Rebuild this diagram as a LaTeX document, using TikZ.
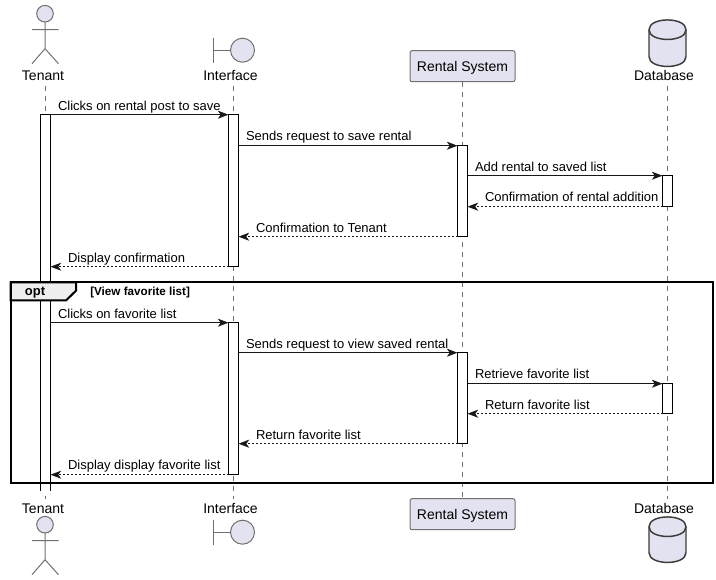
\documentclass[tikz,border=0pt]{standalone}
\usepackage{fontspec}
\setmainfont{Liberation Sans}
\usetikzlibrary{arrows.meta, positioning}
\definecolor{partfill}{HTML}{E2E2F0}
\definecolor{partline}{HTML}{707070}
\definecolor{tabfill}{HTML}{EEEEEE}
\definecolor{msgline}{HTML}{181818}
\tikzstyle{partbox} = [rectangle, rounded corners=1.5pt, minimum width=78.75pt, minimum height=23.25pt, inner sep=0pt, outer sep=0pt, text depth=0pt, draw=partline, fill=partfill, line width=.75pt, font=\fontsize{10.5}{12}\selectfont]
\tikzstyle{partname} = [inner sep=0pt, outer sep=0pt, font=\fontsize{10.5}{12}\selectfont]
\tikzstyle{figure} = [draw=partline, fill=partfill, line width=.75pt]
\tikzstyle{stick} = [draw=partline, line width=.75pt]
\tikzstyle{cylinder} = [draw=msgline!85, fill=partfill, line width=1.1pt]
\tikzstyle{lifeline} = [draw=partline, line width=.75pt, dash pattern=on 3.75pt off 3.75pt]
\tikzstyle{bar} = [rectangle, minimum width=7.5pt, inner sep=0pt, outer sep=0pt, anchor=north, draw=black, fill=white, line width=.75pt]
\tikzstyle{msg} = [inner sep=0pt, outer sep=0pt, anchor=base west, font=\fontsize{9.75}{12}\selectfont]
\tikzstyle{arrow} = [draw=msgline, line width=.75pt, -{Stealth[length=8pt, width=6pt, inset=2.2pt]}]
\tikzstyle{reply} = [arrow, dash pattern=on 1.5pt off 1.5pt]

\begin{document}
\begin{tikzpicture}[x=.75pt, y=-.75pt]
  \useasboundingbox (0,-0.7) rectangle (716,579.3);
  % lifelines
  \coordinate (tenantA) at (45.5,85);
  \coordinate (tenantB) at (45.5,498);
  \coordinate (interfaceA) at (233.5,85);
  \coordinate (interfaceB) at (233.5,498);
  \coordinate (databaseA) at (667.5,85);
  \coordinate (databaseB) at (667.5,498);
  \node (rentalTop) [partbox] at (462.5,65.5) {Rental System};
  \node (rentalBottom) [partbox] at (462.5,513.5) {Rental System};
  \draw[lifeline] (tenantA) -- (tenantB);
  \draw[lifeline] (interfaceA) -- (interfaceB);
  \draw[lifeline] (rentalTop) -- (rentalBottom);
  \draw[lifeline] (databaseA) -- (databaseB);

  % participants
  \node (tenantTop) [partname] at (43,75) {Tenant};
  \node (tenantBottom) [partname] at (43,508) {Tenant};
  \node (interfaceTop) [partname] at (230.5,75) {Interface};
  \node (interfaceBottom) [partname] at (230.5,508) {Interface};
  \node (databaseTop) [partname] at (664,75) {Database};
  \node (databaseBottom) [partname] at (664,508) {Database};

  \draw[figure] (45,13) circle [radius=8.3];
  \draw[stick] (45,21.5) -- (45,48) (32,29) -- (58.5,29) (32,63) -- (45,48) -- (58.5,63);
  \draw[figure] (45,524) circle [radius=8.3];
  \draw[stick] (45,532.5) -- (45,559) (32,540) -- (58.5,540) (32,574) -- (45,559) -- (58.5,574);

  \draw[stick] (213.5,37) -- (213.5,62) (213.5,49.5) -- (230.5,49.5);
  \draw[figure] (242.5,49.5) circle [radius=12];
  \draw[stick] (213.5,519) -- (213.5,544) (213.5,531.5) -- (230.5,531.5);
  \draw[figure] (242.5,531.5) circle [radius=12];

  \draw[cylinder] (649,29) .. controls (649,16) and (686,16) .. (686,29) -- (686,56) .. controls (686,69) and (649,69) .. (649,56) -- cycle;
  \draw[cylinder] (649,29) .. controls (649,42) and (686,42) .. (686,29);
  \draw[cylinder] (649,526) .. controls (649,513) and (686,513) .. (686,526) -- (686,552) .. controls (686,565) and (649,565) .. (649,552) -- cycle;
  \draw[cylinder] (649,526) .. controls (649,539) and (686,539) .. (686,526);

  % activations
  \node (barT) [bar, draw=none, minimum height=376*.75pt] at (45.5,114) {};
  \draw[line width=.75pt] (barT.south west) -- (barT.north west) -- (barT.north east) -- (barT.south east);
  \node (barI1) [bar, minimum height=152*.75pt] at (233.5,114) {};
  \node (barR1) [bar, minimum height=91*.75pt] at (462.5,145) {};
  \node (barD1) [bar, minimum height=31*.75pt] at (667.5,175) {};
  \node (barI2) [bar, minimum height=152*.75pt] at (233.5,322) {};
  \node (barR2) [bar, minimum height=91*.75pt] at (462.5,352) {};
  \node (barD2) [bar, minimum height=30*.75pt] at (667.5,383) {};

  % messages
  \draw[arrow] (barT.north east) -- (barI1.north west);
  \draw[arrow] (barI1.east |- barR1.north) -- (barR1.north west);
  \draw[arrow] (barR1.east |- barD1.north) -- (barD1.north west);
  \draw[reply] (barD1.south west) -- (barR1.east |- barD1.south);
  \draw[reply] (barR1.south west) -- (barI1.east |- barR1.south);
  \draw[reply] (barI1.south west) -- (barT.east |- barI1.south);
  \draw[arrow] (barT.east |- barI2.north) -- (barI2.north west);
  \draw[arrow] (barI2.east |- barR2.north) -- (barR2.north west);
  \draw[arrow] (barR2.east |- barD2.north) -- (barD2.north west);
  \draw[reply] (barD2.south west) -- (barR2.east |- barD2.south);
  \draw[reply] (barR2.south west) -- (barI2.east |- barR2.south);
  \draw[reply] (barI2.south west) -- (barT.east |- barI2.south);

  \node (msgSave) [msg] at (58,110) {Clicks on rental post to save};
  \node (msgRequest) [msg] at (246,140) {Sends request to save rental};
  \node (msgAdd) [msg] at (475,171) {Add rental to saved list};
  \node (msgAdded) [msg] at (485,201) {Confirmation of rental addition};
  \node (msgConfirm) [msg] at (256,232) {Confirmation to Tenant};
  \node (msgDisplay) [msg] at (68,262) {Display confirmation};
  \node (msgClick) [msg] at (58,318) {Clicks on favorite list};
  \node (msgView) [msg] at (246,348) {Sends request to view saved rental};
  \node (msgRetrieve) [msg] at (475,378) {Retrieve favorite list};
  \node (msgReturnA) [msg] at (485,409) {Return favorite list};
  \node (msgReturnB) [msg] at (256,439) {Return favorite list};
  \node (msgShow) [msg] at (68,469) {Display display favorite list};

  % opt frame
  \draw[black, line width=1.5pt, fill=tabfill] (10.5,281.8) -- (76,281.8) -- (76,290) -- (66,299.8) -- (10.5,299.8) -- cycle;
  \draw[black, line width=1.5pt] (10.5,281.8) rectangle (713,481.8);
  \node (optName) [inner sep=0pt, font=\bfseries\fontsize{9.75}{12}\selectfont] at (35,291.5) {opt};
  \node (optGuard) [inner sep=0pt, anchor=west, font=\bfseries\fontsize{8.75}{10}\selectfont] at (90,291.5) {[View favorite list]};
\end{tikzpicture}
\end{document}
